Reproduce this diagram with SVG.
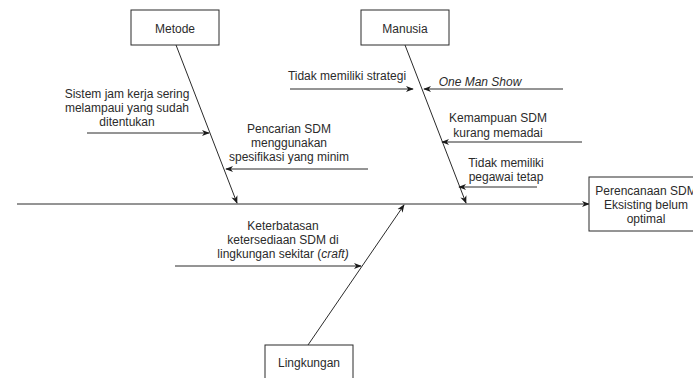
<svg xmlns="http://www.w3.org/2000/svg" width="693" height="378" viewBox="0 0 693 378">
<style>
text{font-family:"Liberation Sans",Arial,sans-serif;font-size:12px;fill:#2b2b2b;text-anchor:middle}
.box{fill:#fff;stroke:#2b2b2b;stroke-width:1}
.c{stroke:#2b2b2b;stroke-width:1;fill:none;marker-end:url(#ah)}
.it{font-style:italic}
</style>
<defs>
<marker id="ah" viewBox="0 0 10 10" refX="9" refY="5" markerWidth="8" markerHeight="8" markerUnits="userSpaceOnUse" orient="auto">
<path d="M0,1 L10,5 L0,9 L3,5 Z" fill="#1a1a1a"/>
</marker>
</defs>
<rect width="693" height="378" fill="#fff"/>
<g id="connectors">
<line class="c" x1="17" y1="204" x2="589" y2="204"/>
<line class="c" x1="176" y1="45" x2="237" y2="203"/>
<line class="c" x1="405" y1="45" x2="466" y2="203"/>
<line class="c" x1="308" y1="345" x2="404" y2="205"/>
<line class="c" x1="87" y1="133" x2="209" y2="133"/>
<line class="c" x1="368" y1="169" x2="226" y2="169"/>
<line class="c" x1="290" y1="89" x2="413" y2="89"/>
<line class="c" x1="563" y1="89" x2="424" y2="89"/>
<line class="c" x1="582" y1="142" x2="442" y2="142"/>
<line class="c" x1="537" y1="187" x2="459" y2="187"/>
<line class="c" x1="175" y1="266" x2="361" y2="266"/>
</g>
<g id="metode"><rect class="box" x="131" y="10" width="88" height="35"/><text x="175" y="33">Metode</text></g>
<g id="manusia"><rect class="box" x="361" y="10" width="88" height="35"/><text x="405" y="33">Manusia</text></g>
<g id="lingkungan"><rect class="box" x="265" y="345" width="88" height="40"/><text x="309" y="367">Lingkungan</text></g>
<g id="effect"><rect class="box" x="589" y="177" width="114" height="54"/><text x="646" y="195">Perencanaan SDM</text><text x="646" y="209">Eksisting belum</text><text x="646" y="223">optimal</text></g>
<g id="label-sistem"><text x="127" y="98">Sistem jam kerja sering</text><text x="127" y="112">melampaui yang sudah</text><text x="127" y="126">ditentukan</text></g>
<g id="label-pencarian"><text x="289" y="133">Pencarian SDM</text><text x="289" y="147">menggunakan</text><text x="289" y="161">spesifikasi yang minim</text></g>
<g id="label-strategi"><text x="347" y="80">Tidak memiliki strategi</text></g>
<g id="label-oneman"><text class="it" x="480" y="86">One Man Show</text></g>
<g id="label-kemampuan"><text x="498" y="122">Kemampuan SDM</text><text x="498" y="137">kurang memadai</text></g>
<g id="label-pegawai"><text x="506" y="167">Tidak memiliki</text><text x="506" y="181">pegawai tetap</text></g>
<g id="label-keterbatasan"><text x="283" y="230">Keterbatasan</text><text x="283" y="244">ketersediaan SDM di</text><text x="283" y="258">lingkungan sekitar (<tspan class="it">craft)</tspan></text></g>
</svg>
